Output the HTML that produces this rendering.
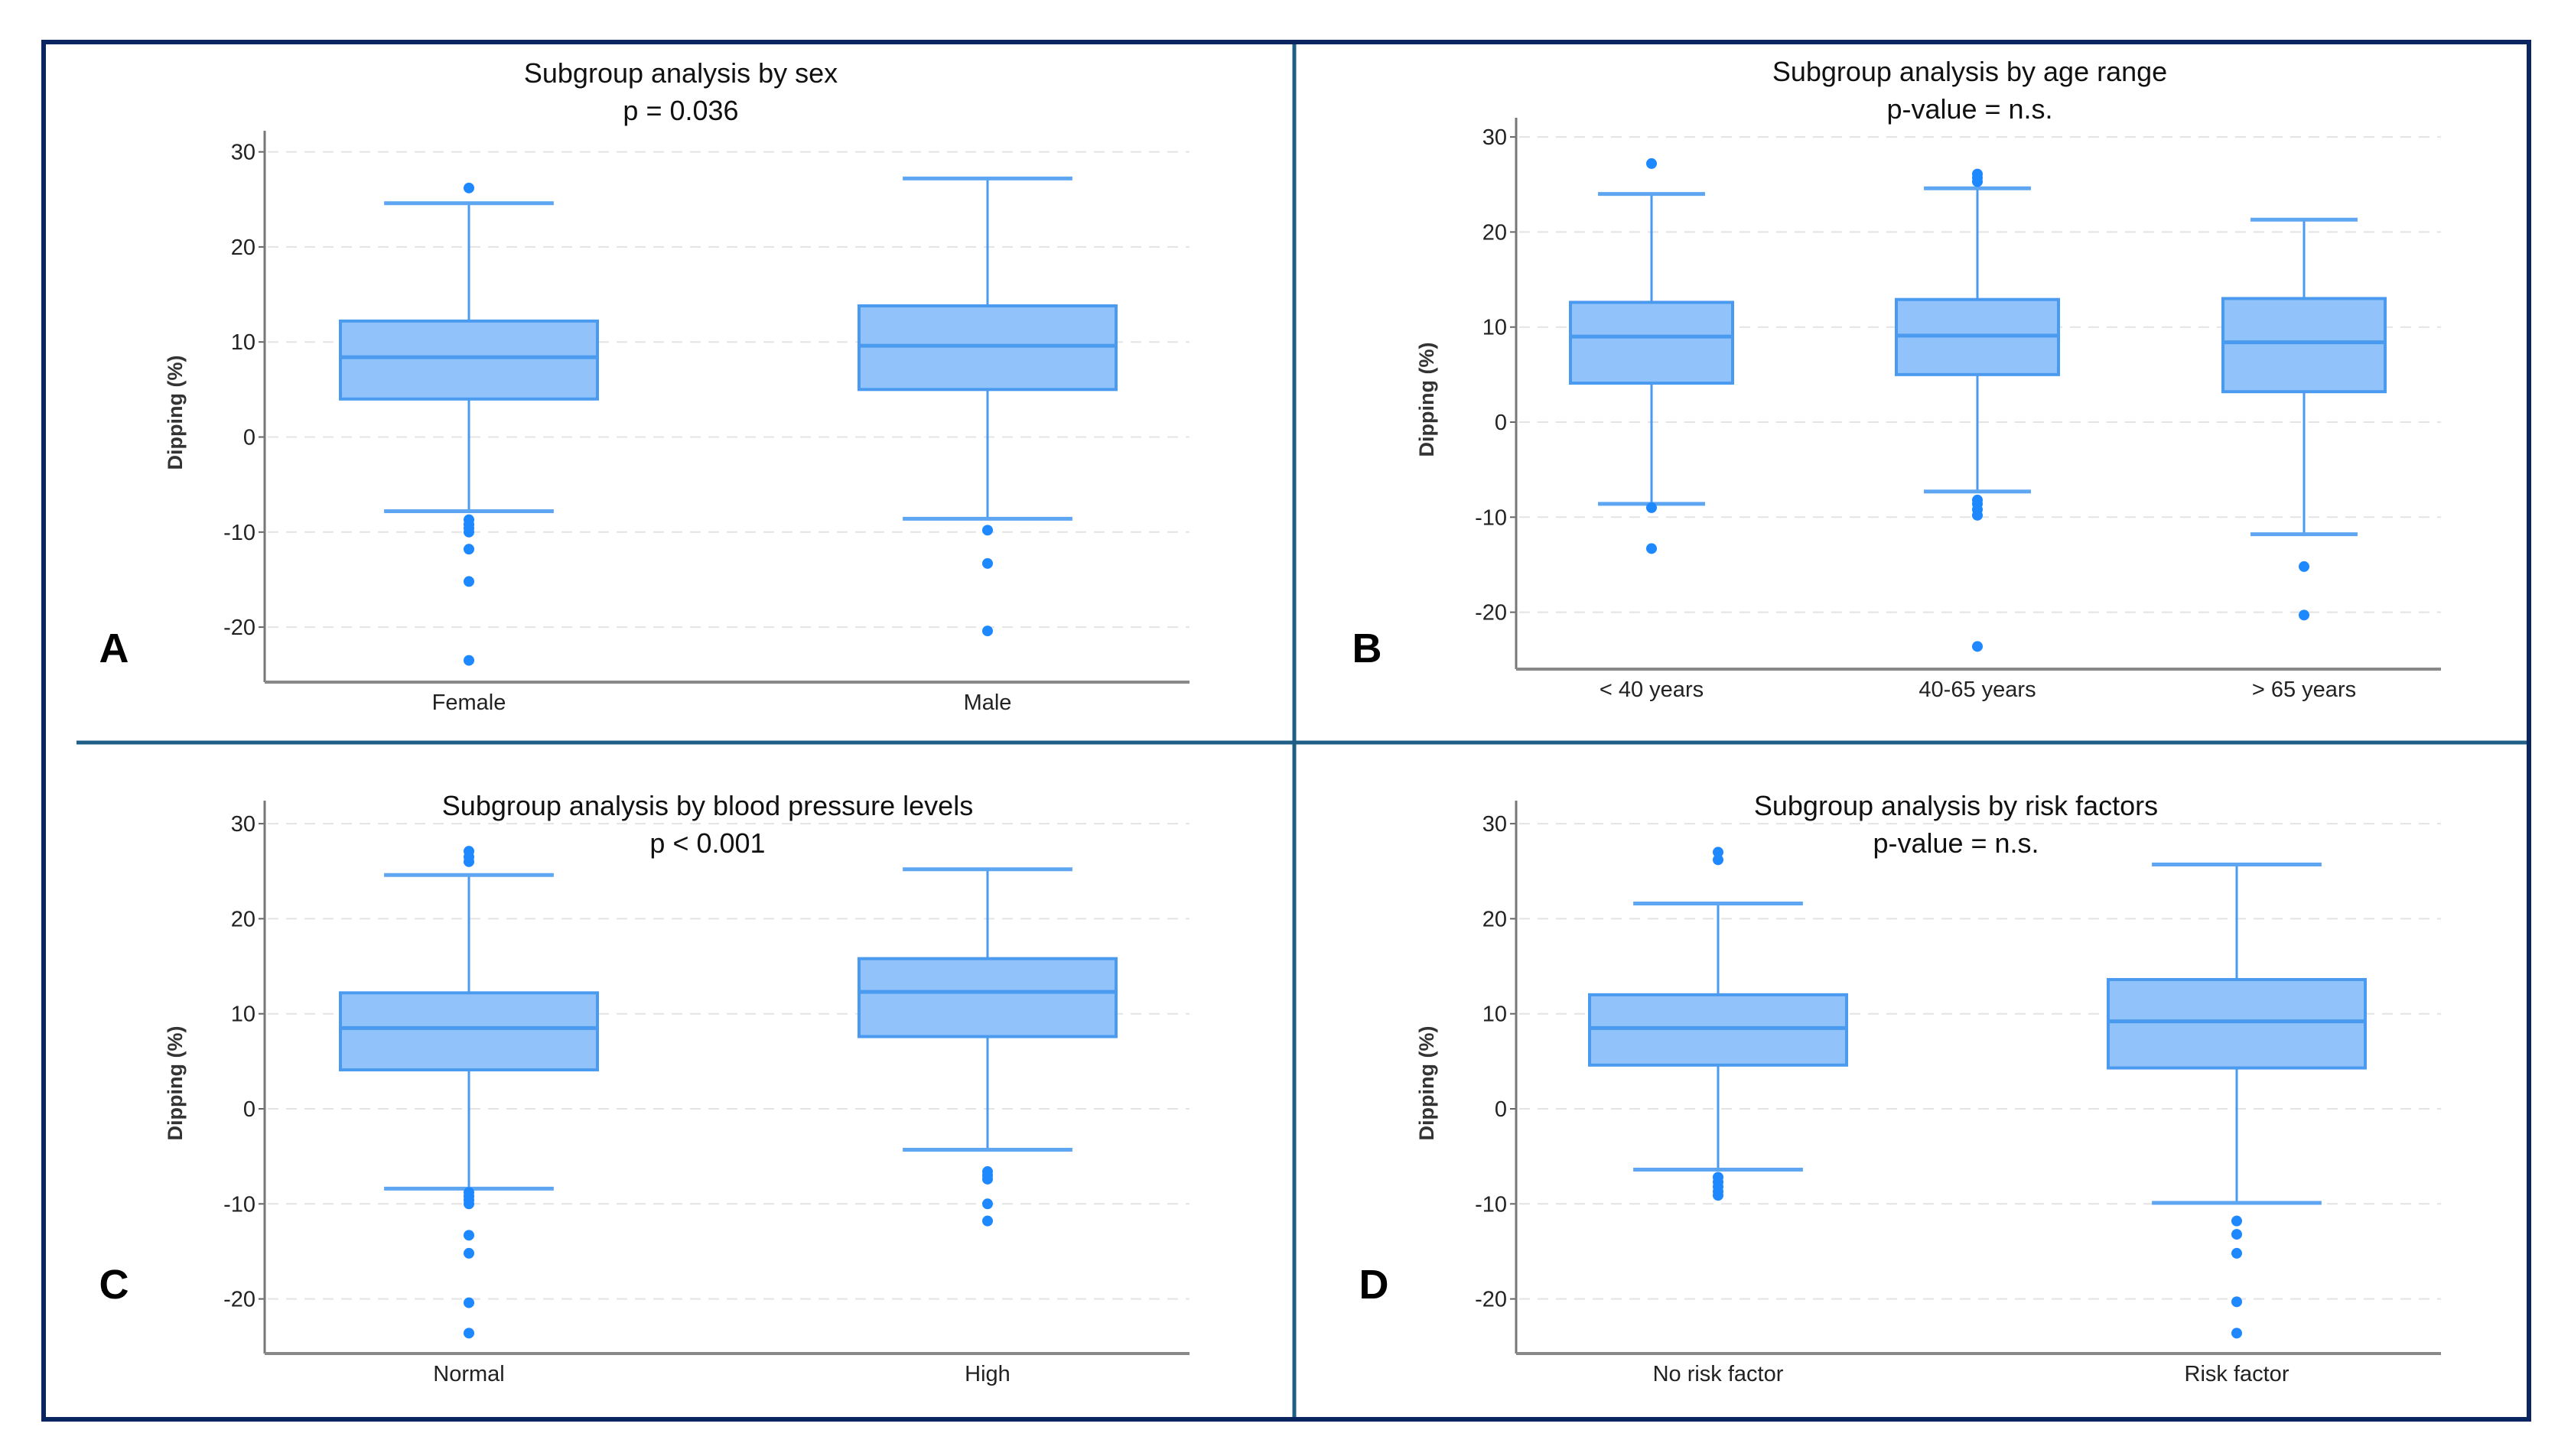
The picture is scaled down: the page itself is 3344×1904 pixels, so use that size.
<!DOCTYPE html>
<html><head><meta charset="utf-8"><style>
html,body{margin:0;padding:0;background:#fff}
svg{display:block}
text{font-family:"Liberation Sans",sans-serif}
</style></head><body>
<svg id="fig" width="3344" height="1904" viewBox="0 0 3344 1904">
<rect x="0" y="0" width="3344" height="1904" fill="#fff"/>
<g id="plots"></g>
<line x1="1692" y1="55" x2="1692" y2="1856" stroke="#1f5f87" stroke-width="5"/>
<line x1="100" y1="971" x2="3306" y2="971" stroke="#1f5f87" stroke-width="5"/>
<rect x="57" y="55" width="3249" height="1801" fill="none" stroke="#0a2560" stroke-width="6"/>
</svg>
<script>
const panelLetters = ["A","B","C","D"];
const panelTitles = ["Subgroup analysis by sex","Subgroup analysis by age range","Subgroup analysis by blood pressure levels","Subgroup analysis by risk factors"];
const panelSubtitles = ["p = 0.036","p-value = n.s.","p < 0.001","p-value = n.s."];
const yTicks = [30,20,10,0,-10,-20];
const catsA = ["Female","Male"];
const statsA = [[-7.8,4.0,8.4,12.2,24.6],[-8.6,5.0,9.6,13.8,27.2]];
const outA = [[26.2,-8.7,-9.2,-9.6,-10,-11.8,-15.2,-23.5],[-9.8,-13.3,-20.4]];
const catsB = ["< 40 years","40-65 years","> 65 years"];
const statsB = [[-8.6,4.1,9.0,12.6,24.0],[-7.3,5.0,9.1,12.9,24.6],[-11.8,3.2,8.4,13.0,21.3]];
const outB = [[27.2,-9,-13.3],[25.3,25.7,26.1,-8.2,-8.6,-9.2,-9.8,-23.6],[-15.2,-20.3]];
const catsC = ["Normal","High"];
const statsC = [[-8.4,4.1,8.5,12.2,24.6],[-4.3,7.6,12.3,15.8,25.2]];
const outC = [[26,26.5,27.1,-8.8,-9.2,-9.6,-10,-13.3,-15.2,-20.4,-23.6],[-6.6,-7,-7.4,-10,-11.8]];
const catsD = ["No risk factor","Risk factor"];
const statsD = [[-6.4,4.6,8.5,12.0,21.6],[-9.9,4.3,9.2,13.6,25.7]];
const outD = [[26.2,27,-7.2,-7.7,-8.2,-8.7,-9.1],[-11.8,-13.2,-15.2,-20.3,-23.6]];

const NS="http://www.w3.org/2000/svg";
const root=document.getElementById('plots');
function mk(tag,attrs,parent){const e=document.createElementNS(NS,tag);for(const k in attrs)e.setAttribute(k,attrs[k]);(parent||root).appendChild(e);return e;}
const layouts=[
 {x0:346,x1:1555,yTop:171,yBot:892,y0:571.5,centers:[613,1291],boxW:336,titleX:890,titleY:108,subY:157,lx:149,ly:866},
 {x0:1982,x1:3191,yTop:154,yBot:875,y0:552,centers:[2159,2585,3012],boxW:212,titleX:2575,titleY:106,subY:155,lx:1787,ly:866},
 {x0:346,x1:1555,yTop:1047,yBot:1770,y0:1450,centers:[613,1291],boxW:336,titleX:925,titleY:1066,subY:1115,lx:149,ly:1698},
 {x0:1982,x1:3191,yTop:1047,yBot:1770,y0:1450,centers:[2246,2924],boxW:336,titleX:2557,titleY:1066,subY:1115,lx:1796,ly:1698}
];
const allCats=[catsA,catsB,catsC,catsD], allStats=[statsA,statsB,statsC,statsD], allOut=[outA,outB,outC,outD];
const per10=124.3;
layouts.forEach((L,i)=>{
  const g=mk('g',{});
  
  
  const ys=v=>L.y0-v*per10/10;
  yTicks.forEach(t=>{
    const gl=mk('line',{x1:L.x0+4,x2:L.x1,y1:ys(t),y2:ys(t),stroke:'#e4e4e4','stroke-width':2,'stroke-dasharray':'14 10'},g);
    
    
    mk('line',{x1:L.x0-8,x2:L.x0,y1:ys(t),y2:ys(t),stroke:'#666','stroke-width':2},g);
    const tl=mk('text',{x:L.x0-12,y:ys(t)+10,'text-anchor':'end','font-size':29,fill:'#222'},g);
    tl.textContent=t;
    
    
  });
  const ya=mk('line',{x1:L.x0,x2:L.x0,y1:L.yTop,y2:L.yBot,stroke:'#777','stroke-width':3},g);
  
  
  const xa=mk('line',{x1:L.x0,x2:L.x1,y1:L.yBot,y2:L.yBot,stroke:'#888','stroke-width':4},g);
  
  
  const yt=mk('text',{x:0,y:0,transform:`translate(${L.x0-108},${(L.yTop+L.yBot)/2+8}) rotate(-90)`,'text-anchor':'middle','font-size':27,fill:'#333','font-weight':'bold'},g);
  yt.textContent='Dipping (%)';
  
  
  const t1=mk('text',{x:L.titleX,y:L.titleY,'text-anchor':'middle','font-size':36,fill:'#111'},g);
  t1.textContent=panelTitles[i];
  
  
  const t2=mk('text',{x:L.titleX,y:L.subY,'text-anchor':'middle','font-size':36,fill:'#111'},g);
  t2.textContent=panelSubtitles[i];
  
  
  const pl=mk('text',{x:L.lx,y:L.ly,'text-anchor':'middle','font-size':54,'font-weight':'bold',fill:'#000'},g);
  pl.textContent=panelLetters[i];
  
  
  allCats[i].forEach((c,j)=>{
    const cx=L.centers[j], s=allStats[i][j], bw=L.boxW, cw=bw*0.66;
    const bg=mk('g',{},g);
    
    
    mk('line',{x1:cx,x2:cx,y1:ys(s[4]),y2:ys(s[3]),stroke:'#4a9af0','stroke-width':3},bg);
    mk('line',{x1:cx,x2:cx,y1:ys(s[1]),y2:ys(s[0]),stroke:'#4a9af0','stroke-width':3},bg);
    mk('line',{x1:cx-cw/2,x2:cx+cw/2,y1:ys(s[4]),y2:ys(s[4]),stroke:'#5ea6f2','stroke-width':5},bg);
    mk('line',{x1:cx-cw/2,x2:cx+cw/2,y1:ys(s[0]),y2:ys(s[0]),stroke:'#5ea6f2','stroke-width':5},bg);
    mk('rect',{x:cx-bw/2,y:ys(s[3]),width:bw,height:ys(s[1])-ys(s[3]),fill:'#91c3fa',stroke:'#4a9af0','stroke-width':4},bg);
    mk('line',{x1:cx-bw/2,x2:cx+bw/2,y1:ys(s[2]),y2:ys(s[2]),stroke:'#4a9af0','stroke-width':5},bg);
    allOut[i][j].forEach(v=>{
      const o=mk('circle',{cx:cx,cy:ys(v),r:7,fill:'#1e88ff'},bg);
      
      
    });
    const xl=mk('text',{x:cx,y:L.yBot+36,'text-anchor':'middle','font-size':29,fill:'#222'},g);
    xl.textContent=c;
    
    
  });
});
</script>
</body></html>
